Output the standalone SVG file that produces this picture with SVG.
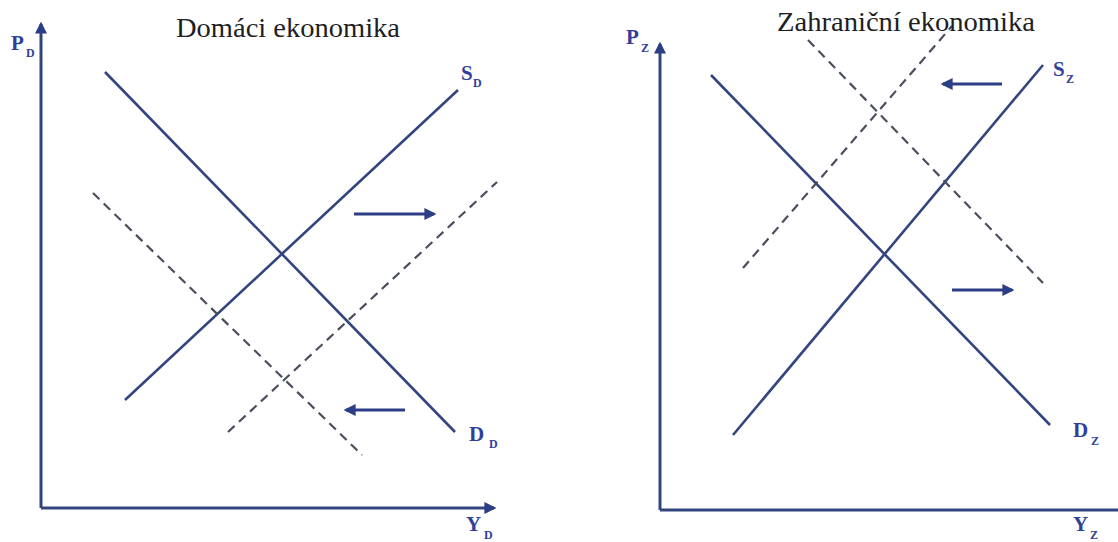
<svg xmlns="http://www.w3.org/2000/svg" width="1118" height="542" viewBox="0 0 1118 542">
<defs>
<style>
.ax{stroke:#33457f;stroke-width:3;fill:none}
.sol{stroke:#33457f;stroke-width:2.6;fill:none}
.dash{stroke:#4a4f5e;stroke-width:2.2;fill:none;stroke-dasharray:9 6}
.arr{stroke:#2c3f86;stroke-width:3;fill:none}
.lab{font-family:"Liberation Serif","Times New Roman",serif;font-weight:bold;fill:#2f3f9a}
.big{font-size:21px}
.sub{font-size:12px}
</style>
<marker id="ah" viewBox="0 0 10 10" refX="8" refY="5" markerWidth="4" markerHeight="4" orient="auto" markerUnits="strokeWidth">
<path d="M0,0 L10,5 L0,10 z" fill="#2c3f86"/>
</marker>
</defs>
<rect width="1118" height="542" fill="#ffffff"/>
<g id="left-axes">
<line class="ax" x1="41" y1="508" x2="41" y2="24" marker-end="url(#ah)"/>
<line class="ax" x1="41" y1="508" x2="494" y2="508" marker-end="url(#ah)"/>
</g>
<g id="right-axes">
<line class="ax" x1="660" y1="510" x2="660" y2="44" marker-end="url(#ah)"/>
<line class="ax" x1="660" y1="510" x2="1118" y2="510"/>
</g>
<g id="connectors">
<line class="sol" x1="125" y1="400" x2="458" y2="90"/>
<line class="sol" x1="105" y1="72" x2="455" y2="432"/>
<line class="dash" x1="93" y1="193" x2="362" y2="455"/>
<line class="dash" x1="228" y1="432" x2="497" y2="182"/>
<line class="arr" x1="354" y1="214" x2="434" y2="214" marker-end="url(#ah)"/>
<line class="arr" x1="405" y1="410" x2="346" y2="410" marker-end="url(#ah)"/>
<line class="sol" x1="733" y1="435" x2="1043" y2="65"/>
<line class="sol" x1="711" y1="75" x2="1050" y2="425"/>
<line class="dash" x1="808" y1="40" x2="1043" y2="283"/>
<line class="dash" x1="743" y1="268" x2="952" y2="26"/>
<line class="arr" x1="1002" y1="84" x2="943" y2="84" marker-end="url(#ah)"/>
<line class="arr" x1="952" y1="290" x2="1012" y2="290" marker-end="url(#ah)"/>
</g>
<g id="title-left"><text x="176" y="37" font-family="'Liberation Serif','Times New Roman',serif" font-size="28" fill="#1e1e24" textLength="224" lengthAdjust="spacingAndGlyphs">Domáci ekonomika</text></g>
<g id="title-right"><text x="777" y="31" font-family="'Liberation Serif','Times New Roman',serif" font-size="28" fill="#1e1e24" textLength="258" lengthAdjust="spacingAndGlyphs">Zahraniční ekonomika</text></g>
<g id="label-PD"><text class="lab big" x="11" y="50">P</text><text class="lab sub" x="26" y="57">D</text></g>
<g id="label-SD"><text class="lab big" x="461" y="80">S</text><text class="lab sub" x="473" y="87">D</text></g>
<g id="label-DD"><text class="lab big" x="469" y="441">D</text><text class="lab sub" x="489" y="448">D</text></g>
<g id="label-YD"><text class="lab big" x="466" y="531">Y</text><text class="lab sub" x="484" y="539">D</text></g>
<g id="label-PZ"><text class="lab big" x="626" y="44">P</text><text class="lab sub" x="641" y="52">Z</text></g>
<g id="label-SZ"><text class="lab big" x="1053" y="76">S</text><text class="lab sub" x="1066" y="83">Z</text></g>
<g id="label-DZ"><text class="lab big" x="1073" y="437">D</text><text class="lab sub" x="1091" y="445">Z</text></g>
<g id="label-YZ"><text class="lab big" x="1073" y="531">Y</text><text class="lab sub" x="1090" y="539">Z</text></g>
</svg>
